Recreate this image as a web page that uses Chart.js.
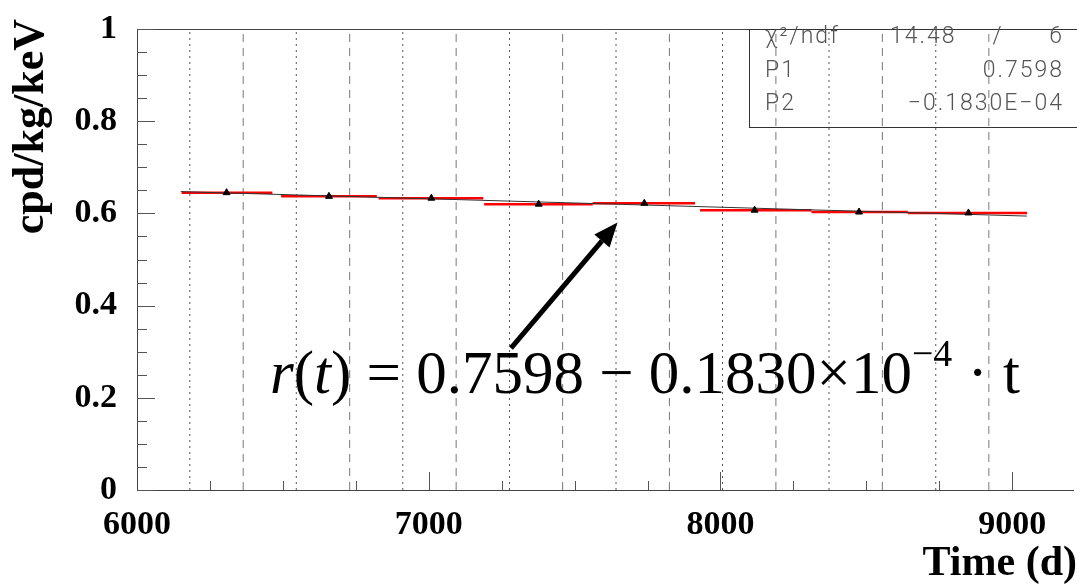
<!DOCTYPE html>
<html>
<head>
<meta charset="utf-8">
<script src="https://cdn.jsdelivr.net/npm/chart.js@4/dist/chart.umd.min.js"></script>
<style>
html,body{margin:0;padding:0;background:#fff;overflow:hidden}
canvas{display:block}
</style>
</head>
<body>
<canvas id="c" width="1077" height="585"></canvas>
<script>
// time bins (d) and rate (cpd/kg/keV)
let binLo=[6153,6494,6828,7190,7562,7930,8312,8642];
let binHi=[6464,6822,7187,7562,7913,8312,8642,9051];
let binMid=[6307,6658,7009,7377,7739,8117,8475,8850];
let rate=[0.645,0.637,0.633,0.620,0.622,0.607,0.603,0.601];
// fit line end points
let fitT=[6150,9050], fitR=[0.6473,0.5942];
// yearly marker lines
let dotLines=[6181,6546,6911,7277,7642,8007,8372,8738];
let dashLines=[6364,6729,7094,7459,7825,8190,8555,8920];
let xTicks=[6000,7000,8000,9000], yTicks=[0,0.2,0.4,0.6,0.8,1];
// stat box rows
let statRows=[['\u03c7\u00b2/ndf','14.48','/','6'],['P1','0.7598'],['P2','\u22120.1830E\u221204']];

let serif='"Liberation Serif","Times New Roman",serif';

let vlines=xs=>{let d=[];xs.forEach(x=>d.push({x,y:0},{x,y:1},{x,y:null}));return d;};
let bins=[];
binLo.forEach((lo,i)=>bins.push({x:lo,y:rate[i]},{x:binHi[i],y:rate[i]},{x:binHi[i],y:null}));

// frame, inner ticks, stat box, formula, arrow, titles
let decor={id:'decor',afterDraw(ch){
  let {ctx,chartArea:a,scales:{x,y}}=ch;
  ctx.save();
  ctx.strokeStyle='#444';ctx.lineWidth=1;
  ctx.beginPath();
  ctx.moveTo(a.right+2,a.top+.5);ctx.lineTo(a.left+.5,a.top+.5);
  ctx.lineTo(a.left+.5,a.bottom+.5);ctx.lineTo(a.right+2,a.bottom+.5);
  ctx.stroke();
  ctx.strokeStyle='#555';
  ctx.beginPath();
  for(let i=0;i<=20;i++){
    let py=Math.round(y.getPixelForValue(i*0.05))+.5, len=i%4==0?18:10;
    ctx.moveTo(a.left,py);ctx.lineTo(a.left+len,py);
  }
  for(let v=6250;v<=9200;v+=250){
    let px=Math.round(x.getPixelForValue(v))+.5, len=v%1000==0?18:9;
    ctx.moveTo(px,a.bottom);ctx.lineTo(px,a.bottom-len);
  }
  ctx.stroke();

  // stat box
  ctx.strokeStyle='#333';
  ctx.strokeRect(749.5,a.top+.5,400,98);
  ctx.fillStyle='#555';ctx.font='300 23px Roboto,"DejaVu Sans",sans-serif';
  ctx.letterSpacing='2px';
  let base=[43,77,110];
  statRows.forEach((r,i)=>{
    ctx.textAlign='left';ctx.fillText(r[0],765,base[i]);
    if(r.length==4){
      ctx.fillText(r[1],890,base[i]);
      ctx.textAlign='center';ctx.fillText(r[2],998,base[i]);
      ctx.textAlign='right';ctx.fillText(r[3],1064,base[i]);
    }else{ctx.textAlign='right';ctx.fillText(r[1],1064,base[i]);}
  });
  ctx.letterSpacing='0px';

  // arrow
  let tx=x.getPixelForValue(7647),ty=y.getPixelForValue(0.580);
  let sx=x.getPixelForValue(7282),sy=y.getPixelForValue(0.308);
  let ang=Math.atan2(ty-sy,tx-sx),hl=24,hw=10;
  let bx=tx-hl*Math.cos(ang),by=ty-hl*Math.sin(ang);
  ctx.strokeStyle='#000';ctx.lineWidth=5;
  ctx.beginPath();ctx.moveTo(sx,sy);ctx.lineTo(bx,by);ctx.stroke();
  ctx.fillStyle='#000';ctx.beginPath();
  ctx.moveTo(tx,ty);
  ctx.lineTo(bx+hw*Math.sin(ang),by-hw*Math.cos(ang));
  ctx.lineTo(bx-hw*Math.sin(ang),by+hw*Math.cos(ang));
  ctx.closePath();ctx.fill();

  // formula
  let parts=[['r','i'],['(',''],['t','i'],[')',''],[' = ',''],['0.7598',''],[' \u2212 ',''],['0.1830',''],['\u00d7',''],['10',''],['\u22124','s'],[' \u00b7 ',''],['t','']];
  let fx=270,fb=393,fs=61;
  ctx.textAlign='left';ctx.fillStyle='#000';
  parts.forEach(([t,k])=>{
    ctx.font=(k=='i'?'italic ':'')+(k=='s'?fs*0.62:fs)+'px '+serif;
    ctx.fillText(t,fx,k=='s'?fb-27:fb);
    fx+=ctx.measureText(t).width;
  });

  // axis titles
  ctx.fillStyle='#000';
  ctx.font='bold 42px '+serif;
  ctx.textAlign='right';ctx.fillText('Time (d)',1077,575);
  ctx.font='bold 44px '+serif;
  ctx.translate(43,19);ctx.rotate(-Math.PI/2);
  ctx.textAlign='right';ctx.fillText('cpd/kg/keV',0,0);
  ctx.restore();
}};

let tickFont={family:serif,size:34,weight:'bold',lineHeight:1};
new Chart(document.getElementById('c'),{
  type:'line',
  data:{datasets:[
    {data:binMid.map((v,i)=>({x:v,y:rate[i]})),showLine:false,pointStyle:'triangle',pointRadius:4,
     pointBackgroundColor:'#000',pointBorderColor:'#000',pointBorderWidth:1,order:0},
    {data:fitT.map((v,i)=>({x:v,y:fitR[i]})),borderColor:'#333',borderWidth:1,pointRadius:0,order:1},
    {data:bins,borderColor:'#ff0000',borderWidth:2.5,pointRadius:0,spanGaps:false,order:2},
    {data:vlines(dotLines),borderColor:'#555',borderWidth:1,borderDash:[2,4],pointRadius:0,spanGaps:false,order:3},
    {data:vlines(dashLines),borderColor:'#777',borderWidth:1,borderDash:[8,6],pointRadius:0,spanGaps:false,order:3}
  ]},
  options:{
    responsive:false,animation:false,devicePixelRatio:1,events:[],
    layout:{padding:{top:19,right:0,left:0,bottom:0}},
    plugins:{legend:{display:false},tooltip:{enabled:false}},
    scales:{
      x:{type:'linear',min:6000,max:9205,
        afterBuildTicks:s=>{s.ticks=xTicks.map(v=>({value:v}))},
        afterFit:s=>{s.height=95},
        grid:{display:false},border:{display:false},
        ticks:{color:'#000',padding:10,maxRotation:0,font:tickFont,callback:v=>String(v)}},
      y:{type:'linear',min:0,max:1,
        afterBuildTicks:s=>{s.ticks=yTicks.map(v=>({value:v}))},
        afterFit:s=>{s.width=137},
        grid:{display:false},border:{display:false},
        ticks:{color:'#000',padding:12,font:tickFont,callback:v=>String(v)}}
    }
  },
  plugins:[decor]
});
</script>
</body>
</html>
